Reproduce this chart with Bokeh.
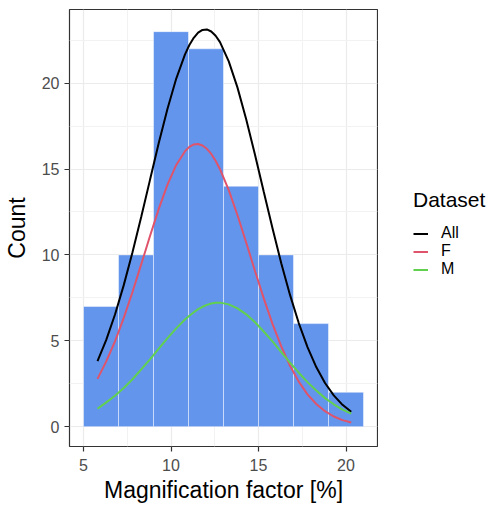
from bokeh.plotting import figure
from bokeh.layouts import row
from bokeh.models import Range1d, FixedTicker, Legend, LegendItem, ColumnDataSource
from bokeh.embed import file_html
from bokeh.resources import INLINE

# Histogram bins (width 2) and counts
bin_left = [5, 7, 9, 11, 13, 15, 17, 19]
bin_right = [7, 9, 11, 13, 15, 17, 19, 21]
counts = [7, 10, 23, 22, 14, 10, 6, 2]

# Density curves (scaled to counts)
curve_x = [5.8, 6.3, 6.8, 7.3, 7.8, 8.3, 8.8, 9.3, 9.8, 10.3, 10.8, 11.05, 11.3, 11.55, 11.8, 12.05,
           12.3, 12.55, 12.8, 13.3, 13.8, 14.3, 14.8, 15.3, 15.8, 16.3, 16.8, 17.3, 17.8, 18.3,
           18.8, 19.3, 19.8, 20.3]
all_y = [3.82, 5.05, 6.53, 8.24, 10.16, 12.22, 14.37, 16.51, 18.51, 20.27, 21.68, 22.22, 22.64, 22.94,
         23.10, 23.13, 23.01, 22.76, 22.39, 21.27, 19.74, 17.89, 15.83, 13.68, 11.55, 9.52, 7.67,
         6.03, 4.63, 3.47, 2.54, 1.82, 1.27, 0.87]
f_y = [2.78, 3.80, 4.97, 6.33, 7.84, 9.46, 11.10, 12.68, 14.09, 15.24, 16.04, 16.29, 16.43, 16.46,
       16.37, 16.18, 15.88, 15.48, 14.99, 13.77, 12.31, 10.71, 9.06, 7.47, 5.98, 4.67, 3.54, 2.62,
       1.88, 1.32, 0.90, 0.59, 0.38, 0.24]
m_y = [1.04, 1.41, 1.80, 2.25, 2.76, 3.33, 3.92, 4.54, 5.15, 5.72, 6.24, 6.46, 6.66, 6.84, 6.98,
       7.09, 7.17, 7.21, 7.22, 7.12, 6.89, 6.54, 6.08, 5.54, 4.96, 4.34, 3.73, 3.14, 2.59, 2.10,
       1.66, 1.30, 0.99, 0.76]

series_names = ["All", "F", "M"]
series_colors = ["black", "#DF536B", "#61D04F"]

x_ticks = [5, 10, 15, 20]
y_ticks = [0, 5, 10, 15, 20]

FONT = "Liberation Sans"

p = figure(width=378, height=505, output_backend="svg", toolbar_location=None,
           x_range=Range1d(4.2, 21.8), y_range=Range1d(-1.157, 24.29),
           min_border_left=69, min_border_right=1, min_border_top=9, min_border_bottom=56)
p.background_fill_color = "white"
p.border_fill_color = "white"
p.outline_line_color = "#333333"
p.outline_line_width = 1.2

p.xaxis.ticker = FixedTicker(ticks=x_ticks, minor_ticks=[7.5, 12.5, 17.5])
p.yaxis.ticker = FixedTicker(ticks=y_ticks, minor_ticks=[2.5, 7.5, 12.5, 17.5, 22.5])

for ax in (p.xaxis, p.yaxis):
    ax.axis_line_color = None
    ax.major_tick_line_color = "#333333"
    ax.major_tick_line_width = 1.2
    ax.major_tick_out = 5
    ax.major_tick_in = 0
    ax.minor_tick_line_color = None
    ax.major_label_text_font = FONT
    ax.major_label_text_font_size = "16px"
    ax.major_label_text_color = "#4d4d4d"
    ax.axis_label_text_font = FONT
    ax.axis_label_text_font_size = "23px"
    ax.axis_label_text_font_style = "normal"
    ax.axis_label_text_color = "black"

p.xaxis.axis_label = "Magnification factor [%]"
p.yaxis.axis_label = "Count"
p.xaxis.major_label_standoff = 7
p.yaxis.major_label_standoff = 5
p.xaxis.axis_label_standoff = 3
p.yaxis.axis_label_standoff = 9

for g in (p.xgrid, p.ygrid):
    g.grid_line_color = "#ebebeb"
    g.grid_line_width = 1.2
    g.minor_grid_line_color = "#f2f2f2"
    g.minor_grid_line_width = 1

src = ColumnDataSource(dict(left=bin_left, right=bin_right, top=counts, bottom=[0] * len(counts)))
p.quad(left="left", right="right", top="top", bottom="bottom", source=src,
       fill_color="#6495ED", line_color="white", line_alpha=0.45, line_width=1)

for ys, c in zip([all_y, f_y, m_y], series_colors):
    p.line(curve_x, ys, line_color=c, line_width=2)

# Legend panel (separate figure on the right, so the legend is not clipped)
lf = figure(width=119, height=505, output_backend="svg", toolbar_location=None,
            x_range=Range1d(0, 119), y_range=Range1d(0, 505),
            x_axis_type=None, y_axis_type=None, min_border=0)
lf.outline_line_color = None
lf.background_fill_color = "white"
lf.border_fill_color = "white"
lf.xgrid.visible = False
lf.ygrid.visible = False
items = []
for name, c in zip(series_names, series_colors):
    # off-screen key line: only its legend swatch is shown
    r = lf.line(x=[-50, -40], y=[-50, -50], line_color=c, line_width=2)
    items.append(LegendItem(label=name, renderers=[r]))

legend = Legend(items=items, location=(35, 168), title="Dataset")
legend.title_text_font = FONT
legend.title_text_font_size = "21px"
legend.title_text_font_style = "normal"
legend.title_text_color = "black"
legend.title_standoff = 12
legend.label_text_font = FONT
legend.label_text_font_size = "16px"
legend.label_text_color = "black"
legend.glyph_width = 15
legend.glyph_height = 17
legend.label_height = 17
legend.label_standoff = 13
legend.spacing = 0
legend.padding = 0
legend.margin = 0
legend.border_line_color = None
legend.background_fill_alpha = 0
lf.add_layout(legend, "center")

layout = row(p, lf, spacing=0)
open("out.html", "w").write(file_html(layout, INLINE))
